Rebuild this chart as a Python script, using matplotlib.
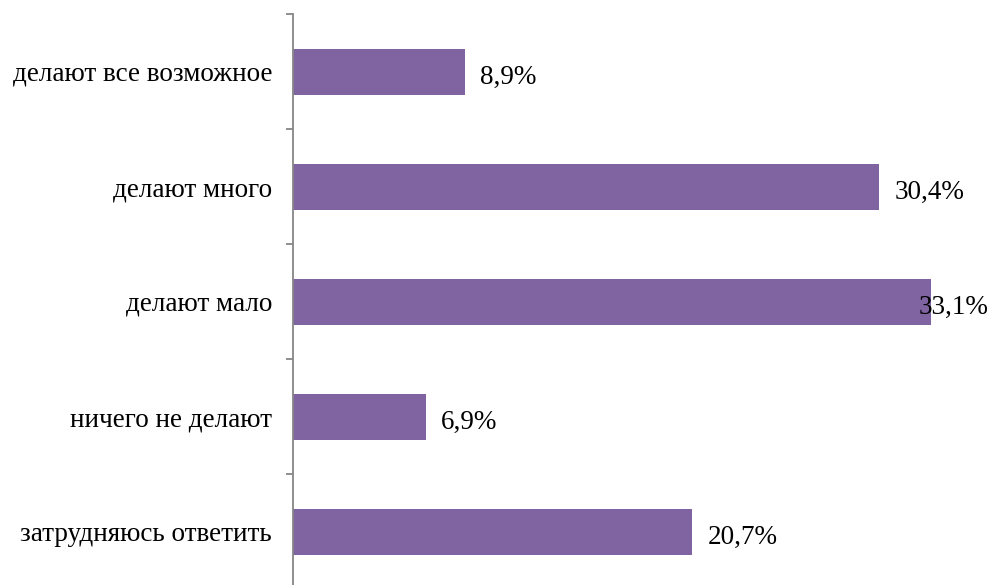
import matplotlib.pyplot as plt

categories = ['делают все возможное', 'делают много', 'делают мало',
              'ничего не делают', 'затрудняюсь ответить']
values = [8.9, 30.4, 33.1, 6.9, 20.7]
labels = ['8,9%', '30,4%', '33,1%', '6,9%', '20,7%']

plt.rcParams['font.family'] = ['Liberation Serif', 'DejaVu Serif']

fig = plt.figure(figsize=(9.93, 5.85), dpi=100)
ax = fig.add_axes([293 / 993, -4 / 585, 700 / 993, 575 / 585])

pos = range(len(categories))
ax.barh(pos, values, height=0.4, color='#8064A2')
ax.set_ylim(len(categories) - 0.5, -0.5)
ax.set_xlim(0, 36.3)

for p, v, lab in zip(pos, values, labels):
    # the longest bar's label is pushed back so it stays inside the picture
    off = 11 if v < 32 else -9
    ax.annotate(lab, (v, p), xytext=(off, -2), textcoords='offset points',
                ha='left', va='center_baseline', fontsize=19.5)

ax.set_yticks([i - 0.5 for i in range(len(categories) + 1)])
ax.set_yticklabels([])
ax.set_yticks(list(pos), minor=True)
ax.set_yticklabels(categories, minor=True, fontsize=19.5)
for t in ax.get_yticklabels(minor=True):
    t.set_va('center_baseline')
ax.tick_params(axis='y', which='major', length=5, color='#868686', width=1.3, direction='out')
ax.tick_params(axis='y', which='minor', length=0, pad=15)
ax.set_xticks([])

for s in ['top', 'right', 'bottom']:
    ax.spines[s].set_visible(False)
ax.spines['left'].set_color('#868686')
ax.spines['left'].set_linewidth(1.3)

fig.savefig('out.png', dpi=100)
